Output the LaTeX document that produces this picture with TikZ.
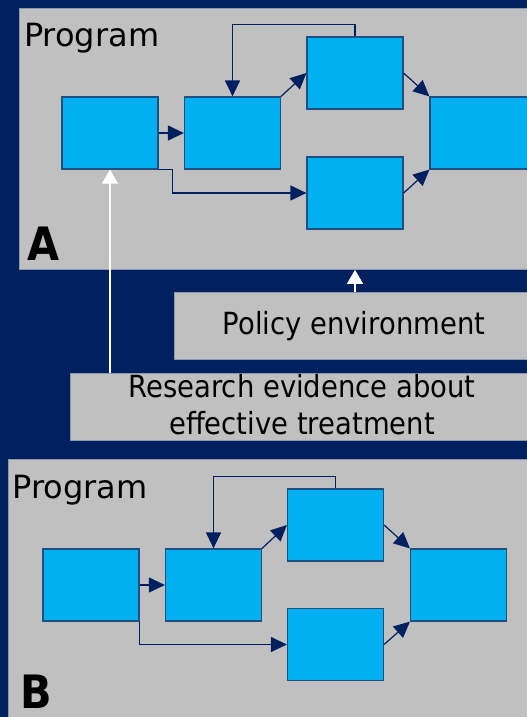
\documentclass[tikz,border=0pt]{standalone}
\usepackage{fontspec}
\setmainfont{DejaVu Sans}[FakeStretch=0.9]
\newfontfamily\plainsans{DejaVu Sans}
\usetikzlibrary{arrows.meta}
\definecolor{navy}{RGB}{0,32,96}
\definecolor{panelgray}{RGB}{192,192,192}
\definecolor{panelline}{RGB}{140,150,175}
\definecolor{boxblue}{RGB}{0,176,240}
\definecolor{boxline}{RGB}{30,80,130}
\begin{document}
\begin{tikzpicture}[x=1pt,y=-1pt,
  panel/.style={draw=panelline,fill=panelgray,line width=0.8pt,inner sep=0,anchor=north west},
  bx/.style={draw=boxline,fill=boxblue,line width=1.2pt,inner sep=0,minimum width=96pt,minimum height=72pt},
  conn/.style={draw=navy,line width=1.2pt,-{Triangle[length=16pt,width=15pt]}},
  warr/.style={draw=white,line width=1.3pt,-{Triangle[length=14pt,width=16pt]}},
  prog/.style={inner sep=0,anchor=base west,font=\plainsans\fontsize{32}{38}\selectfont,text=black},
  big/.style={inner sep=0,anchor=base west,text depth=0pt,font=\bfseries\fontsize{46}{54}\selectfont,text=black},
  lbl/.style={inner sep=0,anchor=base,font=\fontsize{30.5}{37}\selectfont,text=black}]
\useasboundingbox (0,0) rectangle (527,717);
\clip (0,0) rectangle (527,717);
\fill[navy] (0,0) rectangle (527,717);

% Panel A
\node[panel,minimum width=530pt,minimum height=261pt] (pA) at (19,8) {};
\node[prog] (progA) at (24,47) {Program};
\node[big] (labA) at (27,260) {A};
\node[bx] (a1) at (110,133) {};
\node[bx] (a2) at (232.5,133) {};
\node[bx] (a3) at (355,73) {};
\node[bx] (a4) at (355,193) {};
\node[bx,minimum width=120pt] (a5) at (490,133) {};
\draw[conn] (a1.east) -- (a2.west);
\draw[conn] (a2.north east) -- (a3.west);
\draw[conn] (a3.east) -- (a5.north west);
\draw[conn] (a4.east) -- (a5.south west);
\draw[conn] (a1.south east) -- ++(14,0) |- (a4.west);
\draw[conn] (a3.north) -- ++(0,-12) -| (a2.north);

% Policy environment
\node[panel,minimum width=360pt,minimum height=67pt] (pol) at (174,292) {};
\node[lbl] (polt) at (354,334) {Policy environment};

% Research evidence
\node[panel,minimum width=464pt,minimum height=67pt] (res) at (70,373) {};
\node[lbl] (res1) at (302,397) {Research evidence about};
\node[lbl] (res2) at (302,434) {effective treatment};

\draw[warr] (res.north -| a1) -- (a1.south);
\draw[warr] (pol.north -| a3) -- (pA.south -| a3);

% Panel B
\node[panel,minimum width=540pt,minimum height=270pt] (pB) at (8,459) {};
\node[prog] (progB) at (12.5,498) {Program};
\node[big] (labB) at (20,708) {B};
\node[bx] (b1) at (91,585) {};
\node[bx] (b2) at (213.5,585) {};
\node[bx] (b3) at (335.5,525) {};
\node[bx] (b4) at (335.5,644.5) {};
\node[bx] (b5) at (458.5,585) {};
\draw[conn] (b1.east) -- (b2.west);
\draw[conn] (b2.north east) -- (b3.west);
\draw[conn] (b3.east) -- (b5.north west);
\draw[conn] (b4.east) -- (b5.south west);
\draw[conn] (b1.south east) |- (b4.west);
\draw[conn] (b3.north) -- ++(0,-12) -| (b2.north);
\end{tikzpicture}
\end{document}
